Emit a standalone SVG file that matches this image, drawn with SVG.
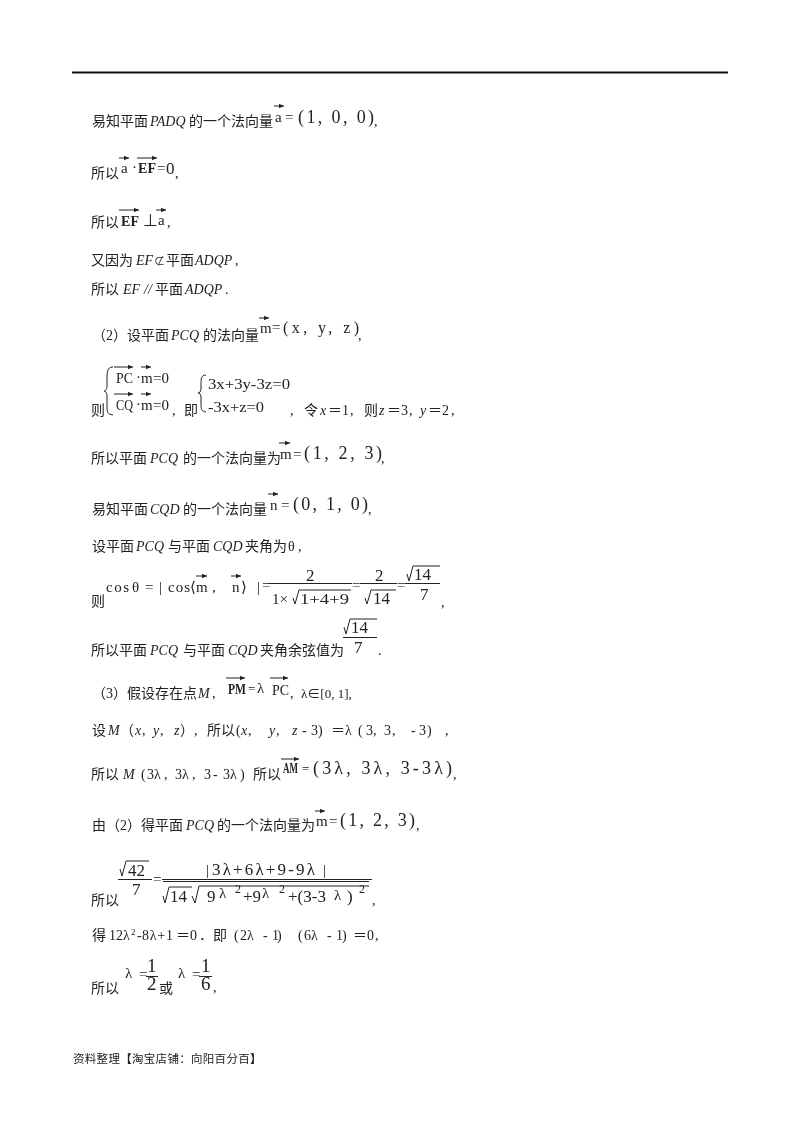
<svg xmlns="http://www.w3.org/2000/svg" width="800" height="1132" viewBox="0 0 800 1132">
<defs>
<marker id="ah" markerUnits="userSpaceOnUse" markerWidth="6" markerHeight="5" refX="5" refY="2.5" orient="auto"><path d="M0 0.3L5 2.5L0 4.7z" fill="#222"/></marker>
<filter id="soft" x="-0.02" y="-0.02" width="1.04" height="1.04"><feGaussianBlur stdDeviation="0.35"/></filter>
</defs>
<style>
text{font-family:"Liberation Serif","Noto Sans CJK SC",serif;font-size:14px;fill:#222}
.i{font-style:italic}
.m{font-family:"Liberation Serif",serif;font-size:15px}
.b{font-family:"Liberation Serif",serif;font-size:15px;font-weight:bold}
.l{font-family:"Liberation Serif",serif;font-size:18px}
.s{font-family:"Liberation Serif",serif;font-size:17px}
.u{font-family:"Liberation Serif",serif;font-size:12px}
.h{font-family:"Liberation Serif",serif;font-size:19px}
.f{font-family:"Noto Sans CJK SC",sans-serif;font-size:11.5px;letter-spacing:0.3px}
.k{font-weight:bold}
.v{stroke:#222;stroke-width:1;fill:none;marker-end:url(#ah)}
.r{stroke:#222;stroke-width:1;fill:none}
</style>
<rect width="800" height="1132" fill="#fff"/>
<line x1="72" y1="72.500" x2="728" y2="72.500" stroke="#111" stroke-width="2"/>
<g filter="url(#soft)">
<g id="line1"><text x="92" y="126">易知平面</text><text class="i" x="150" y="126">PADQ</text><text x="189" y="126">的一个法向量</text><text class="m" x="275" y="122">a</text><path class="v" d="M274 106h10"/><text class="m" x="285" y="122">=</text><text class="l" x="298" y="123" textLength="76">(1, 0, 0)</text><text x="374" y="126">,</text></g>
<g id="line2"><text x="91" y="178">所以</text><text class="m" x="121" y="173">a</text><path class="v" d="M119 158h10"/><text class="m" x="132" y="172">·</text><text class="b" x="138" y="173" textLength="18" lengthAdjust="spacingAndGlyphs">EF</text><path class="v" d="M137 158h20"/><text class="m" x="157" y="173">=</text><text class="s" x="166" y="174">0</text><text x="175" y="178">,</text></g>
<g id="line3"><text x="91" y="227">所以</text><text class="b" x="121" y="226" textLength="18" lengthAdjust="spacingAndGlyphs">EF</text><path class="v" d="M119 210h20"/><text class="s" x="143" y="226">⊥</text><text class="m" x="158" y="225">a</text><path class="v" d="M156 210h10"/><text x="167" y="227">,</text></g>
<g id="line4"><text x="91" y="265">又因为</text><text class="i" x="136" y="265">EF</text><text style="font-size:11px" x="154" y="265">⊄</text><text x="166" y="265">平面</text><text class="i" x="195" y="265">ADQP</text><text x="235" y="265">,</text></g>
<g id="line5"><text x="91" y="294">所以</text><text class="i" x="123" y="294">EF</text><text class="i" x="144" y="294">//</text><text x="155" y="294">平面</text><text class="i" x="185" y="294">ADQP</text><text x="225" y="294">.</text></g>
<g id="line6"><text x="92" y="340">（2）设平面</text><text class="i" x="171" y="340">PCQ</text><text x="203" y="340">的法向量</text><text class="m" x="260" y="333">m</text><path class="v" d="M259 318h10"/><text class="m" x="272" y="332">=</text><text class="m" style="font-size:16px" x="283" y="333" textLength="76">(x, y, z)</text><text x="358" y="340">,</text></g>
<g id="line7">
<text x="91" y="415">则</text>
<path class="r" d="M113 367C107 367 107 372 107 380V386C107 390 105 391 104 391C105 391 107 392 107 396V405C107 412 107 414 113 415"/>
<text class="m" x="116" y="383" textLength="17" lengthAdjust="spacingAndGlyphs">PC</text><path class="v" d="M114 367h19"/><text class="m" x="136" y="382">·</text><text class="m" x="141" y="383">m</text><path class="v" d="M141 367h10"/><text class="m" x="153" y="383">=0</text>
<text class="m" x="116" y="410" textLength="17" lengthAdjust="spacingAndGlyphs">CQ</text><path class="v" d="M114 394h19"/><text class="m" x="136" y="409">·</text><text class="m" x="141" y="410">m</text><path class="v" d="M141 394h10"/><text class="m" x="153" y="410">=0</text><text x="172" y="415">,</text><text x="184" y="415">即</text>
<path class="r" d="M206 375C201 375 201 379 201 384V389C201 392 199 393 198 393C199 393 201 394 201 397V403C201 409 201 411 206 412"/>
<text class="m" x="208" y="389" textLength="82" lengthAdjust="spacingAndGlyphs">3x+3y-3z=0</text><text class="m" x="208" y="412" textLength="56" lengthAdjust="spacingAndGlyphs">-3x+z=0</text>
<text x="290" y="415">,</text><text x="304" y="415">令</text><text class="i" x="320" y="415">x</text><text x="328" y="415">＝1</text><text x="350" y="415">,</text><text x="364" y="415">则</text><text class="i" x="379" y="415">z</text><text x="387" y="415">＝3</text><text x="409" y="415">,</text><text class="i" x="420" y="415">y</text><text x="428" y="415">＝2</text><text x="451" y="415">,</text>
</g>
<g id="line8"><text x="91" y="463">所以平面</text><text class="i" x="150" y="463">PCQ</text><text x="183" y="463">的一个法向量为</text><text class="m" x="280" y="459">m</text><path class="v" d="M279 443h11"/><text class="m" x="293" y="459">=</text><text class="l" x="304" y="459" textLength="78">(1, 2, 3)</text><text x="381" y="463">,</text></g>
<g id="line9"><text x="92" y="514">易知平面</text><text class="i" x="150" y="514">CQD</text><text x="183" y="514">的一个法向量</text><text class="m" x="270" y="510">n</text><path class="v" d="M268 494h10"/><text class="m" x="281" y="510">=</text><text class="l" x="293" y="510" textLength="75">(0, 1, 0)</text><text x="368" y="514">,</text></g>
<g id="line10"><text x="92" y="551">设平面</text><text class="i" x="136" y="551">PCQ</text><text x="168" y="551">与平面</text><text class="i" x="213" y="551">CQD</text><text x="245" y="551">夹角为</text><text x="288" y="551">θ</text><text x="298" y="551">,</text></g>
<g id="line11">
<text x="91" y="606">则</text><text class="m" x="106" y="592" textLength="23">cos</text><text class="m" x="132" y="592">θ</text><text class="m" x="145" y="592">=</text><text class="m" x="159" y="592">|</text><text class="m" x="168" y="592" textLength="22">cos</text><text class="m" x="190" y="592">⟨</text><text class="m" x="196" y="592">m</text><path class="v" d="M196 576h11"/><text class="m" x="212" y="592">,</text><text class="m" x="232" y="592">n</text><path class="v" d="M231 576h10"/><text class="m" x="241" y="592">⟩</text><text class="m" x="257" y="592">|</text><text class="m" x="262" y="590">=</text>
<path class="r" d="M268 583.500h84"/><text class="s" x="306" y="581">2</text>
<text class="m" x="272" y="604">1×</text><path class="r" d="M293 598l2 6l4-14h52"/><text class="m" x="300" y="604" textLength="49" lengthAdjust="spacingAndGlyphs">1+4+9</text>
<text class="m" x="352" y="590">=</text><path class="r" d="M360 583.500h37"/><text class="s" x="375" y="581">2</text><path class="r" d="M365 598l2 6l4-14h25"/><text class="s" x="373" y="604">14</text>
<text class="m" x="397" y="590">=</text><path class="r" d="M405 583.500h35"/><path class="r" d="M407 574l2 7l4-15h27"/><text class="s" x="414" y="580">14</text><text class="s" x="420" y="600">7</text><text x="441" y="607">,</text>
</g>
<g id="line12"><text x="91" y="655">所以平面</text><text class="i" x="150" y="655">PCQ</text><text x="183" y="655">与平面</text><text class="i" x="228" y="655">CQD</text><text x="260" y="655">夹角余弦值为</text>
<path class="r" d="M343 637.500h34"/><path class="r" d="M344 627l2 7l4-15h27"/><text class="s" x="351" y="633">14</text><text class="s" x="354" y="653">7</text><text x="378" y="655">.</text></g>
<g id="line13"><text x="92" y="698">（3）假设存在点</text><text class="i" x="198" y="698">M</text><text x="212" y="698">,</text><text class="b" x="228" y="694" textLength="18" lengthAdjust="spacingAndGlyphs">PM</text><path class="v" d="M226 678h19"/><text class="m" style="font-size:13px" x="248" y="693">=</text><text class="m" x="257" y="693">λ</text><path class="v" d="M270 678h18"/><text class="m" x="272" y="695" textLength="17" lengthAdjust="spacingAndGlyphs">PC</text><text x="290" y="698">,</text><text style="font-size:13px" x="301" y="698">λ∈[0, 1],</text></g>
<g id="line14"><text x="92" y="735">设</text><text class="i" x="108" y="735">M</text><text x="120" y="735">（</text><text class="i" x="135" y="735">x</text><text x="142" y="735">,</text><text class="i" x="153" y="735">y</text><text x="160" y="735">,</text><text class="i" x="174" y="735">z</text><text x="180" y="735">）</text><text x="194" y="735">,</text><text x="207" y="735">所以</text><text x="236" y="735">(</text><text class="i" x="241" y="735">x</text><text x="248" y="735">,</text><text class="i" x="269" y="735">y</text><text x="276" y="735">,</text><text class="i" x="292" y="735">z</text><text x="302" y="735">-</text><text x="311" y="735">3</text><text x="318" y="735">)</text><text x="331" y="735">＝</text><text x="345" y="735">λ</text><text x="358" y="735">(</text><text x="366" y="735">3</text><text x="373" y="735">,</text><text x="384" y="735">3</text><text x="392" y="735">,</text><text x="411" y="735">-</text><text x="419" y="735">3</text><text x="427" y="735">)</text><text x="445" y="735">,</text></g>
<g id="line15"><text x="91" y="779">所以</text><text class="i" x="123" y="779">M</text><text x="141" y="779">(</text><text x="147" y="779">3λ</text><text x="164" y="779">,</text><text x="175" y="779">3λ</text><text x="192" y="779">,</text><text x="204" y="779">3</text><text x="213" y="779">-</text><text x="223" y="779">3λ</text><text x="240" y="779">)</text><text x="253" y="779">所以</text><text class="b" x="283" y="773" textLength="15" lengthAdjust="spacingAndGlyphs">AM</text><path class="v" d="M281 759h18"/><text class="m" style="font-size:13px" x="302" y="773">=</text><text class="l" x="313" y="774" textLength="139">(3λ, 3λ, 3-3λ)</text><text x="453" y="779">,</text></g>
<g id="line16"><text x="92" y="830">由（2）得平面</text><text class="i" x="186" y="830">PCQ</text><text x="217" y="830">的一个法向量为</text><text class="m" x="316" y="826">m</text><path class="v" d="M315 811h10"/><text class="m" x="329" y="826">=</text><text class="l" x="340" y="826" textLength="75">(1, 2, 3)</text><text x="416" y="830">,</text></g>
<g id="line17">
<text x="91" y="905">所以</text><path class="r" d="M118 879.500h34"/><path class="r" d="M120 869l2 7l4-15h23"/><text class="s" x="128" y="876">42</text><text class="s" x="132" y="895">7</text><text class="m" x="153" y="884">=</text>
<path class="r" d="M162 879.500h210M163 881.500h206"/>
<text class="m" x="206" y="875">|</text><text class="s" x="212" y="875" textLength="103">3λ+6λ+9-9λ</text><text class="m" x="323" y="875">|</text>
<path class="r" d="M163 896l2 7l4-16h23"/><text class="s" x="170" y="902">14</text><path class="r" d="M192 896l3 7l4-17h170"/><text class="s" x="207" y="902">9</text><text class="m" x="219" y="898">λ</text><text class="u" x="235" y="893">2</text><text class="s" x="243" y="902">+9</text><text class="m" x="262" y="898">λ</text><text class="u" x="279" y="893">2</text><text class="s" x="288" y="902">+(3-3</text><text class="m" x="334" y="900">λ</text><text class="s" x="347" y="902">)</text><text class="u" x="359" y="893">2</text><text x="372" y="905">,</text>
</g>
<g id="line18"><text x="92" y="940">得</text><text x="109" y="940">12λ</text><text style="font-size:9px" x="131" y="935">2</text><text x="137" y="940">-</text><text x="142" y="940" textLength="31">8λ+1</text><text x="176" y="940">＝0</text><text x="199" y="940">．</text><text x="213" y="940">即</text><text x="234" y="940">(</text><text x="240" y="940">2λ</text><text x="263" y="940">-</text><text x="272" y="940">1</text><text x="277" y="940">)</text><text x="298" y="940">(</text><text x="304" y="940">6λ</text><text x="327" y="940">-</text><text x="336" y="940">1</text><text x="342" y="940">)</text><text x="353" y="940">＝0</text><text x="375" y="940">,</text></g>
<g id="line19"><text x="91" y="993">所以</text><text class="m" x="125" y="978">λ</text><text class="m" x="139" y="979">=</text><path class="r" d="M146 976.500h12"/><text class="h" x="147" y="972">1</text><text class="h" x="147" y="990">2</text><text x="159" y="993">或</text><text class="m" x="178" y="978">λ</text><text class="m" x="192" y="979">=</text><path class="r" d="M199 976.500h13"/><text class="h" x="201" y="972">1</text><text class="h" x="201" y="990">6</text><text x="213" y="992">,</text></g>
<g id="footer"><text class="f" x="73" y="1063">资料整理<tspan class="k">【</tspan>淘宝店铺：向阳百分百<tspan class="k">】</tspan></text></g>
</g>
</svg>
